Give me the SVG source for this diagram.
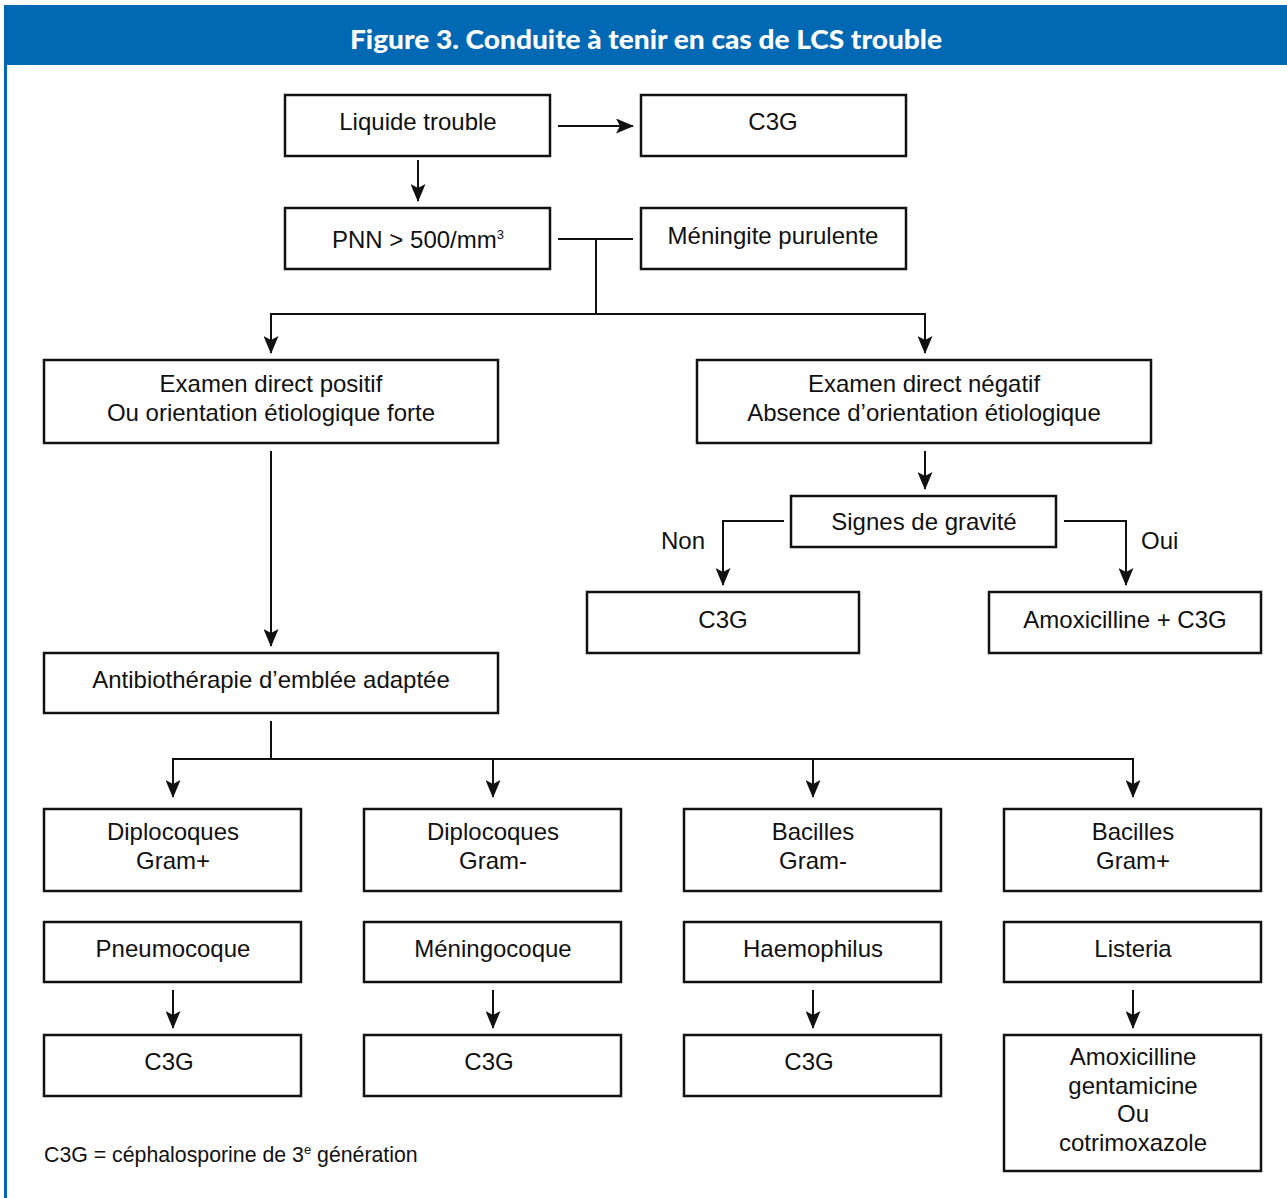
<svg xmlns="http://www.w3.org/2000/svg" width="1287" height="1198" viewBox="0 0 1287 1198">
  <style>
    .box { fill: #ffffff; stroke: #111111; stroke-width: 2.5; }
    .lbl { font-family: "Liberation Sans", Arial, sans-serif; font-size: 24px; fill: #111111; text-anchor: middle; }
    .side { font-family: "Liberation Sans", Arial, sans-serif; font-size: 24px; fill: #111111; }
    .note { font-family: "Liberation Sans", Arial, sans-serif; font-size: 21.3px; fill: #111111; }
    .wire { fill: none; stroke: #111111; stroke-width: 2; }
    .arr { marker-end: url(#head); }
  </style>
  <defs>
    <marker id="head" markerWidth="18" markerHeight="15" refX="17" refY="7.5" orient="auto" markerUnits="userSpaceOnUse">
      <path d="M0,0 L18,7.5 L0,15 L4,7.5 Z" fill="#111111"/>
    </marker>
  </defs>

  <rect x="0" y="0" width="1287" height="1198" fill="#ffffff"/>

  <!-- title band and left rule -->
  <g id="header">
    <rect x="4" y="5" width="1283" height="60" fill="#0168b3"/>
    <rect x="4" y="65" width="3" height="1133" fill="#0168b3"/>
    <text x="646" y="49" font-family="Lato, 'Open Sans', sans-serif" font-weight="900" font-size="27" fill="#ffffff" text-anchor="middle" textLength="592" lengthAdjust="spacingAndGlyphs">Figure 3. Conduite à tenir en cas de LCS trouble</text>
  </g>

  <!-- connectors -->
  <g id="connectors">
    <line class="wire arr" x1="558" y1="126" x2="633" y2="126"/>
    <line class="wire arr" x1="418" y1="160" x2="418" y2="201"/>
    <polyline class="wire" points="558,239 633,239"/>
    <line class="wire" x1="596" y1="239" x2="596" y2="314"/>
    <polyline class="wire arr" points="596,314 271,314 271,353"/>
    <polyline class="wire arr" points="596,314 925,314 925,353"/>
    <line class="wire arr" x1="925" y1="451" x2="925" y2="489"/>
    <polyline class="wire arr" points="784,521 723,521 723,585"/>
    <polyline class="wire arr" points="1064,521 1126,521 1126,585"/>
    <line class="wire arr" x1="271" y1="451" x2="271" y2="646"/>
    <line class="wire" x1="271" y1="721" x2="271" y2="759"/>
    <polyline class="wire arr" points="271,759 173,759 173,797"/>
    <polyline class="wire arr" points="271,759 493,759 493,797"/>
    <polyline class="wire arr" points="271,759 813,759 813,797"/>
    <polyline class="wire arr" points="271,759 1133,759 1133,797"/>
    <line class="wire arr" x1="173" y1="990" x2="173" y2="1028"/>
    <line class="wire arr" x1="493" y1="990" x2="493" y2="1028"/>
    <line class="wire arr" x1="813" y1="990" x2="813" y2="1028"/>
    <line class="wire arr" x1="1133" y1="990" x2="1133" y2="1028"/>
    <text class="side" x="661" y="549">Non</text>
    <text class="side" x="1141" y="549">Oui</text>
  </g>

  <g id="liquide">
    <rect class="box" x="285" y="95" width="265" height="61"/>
    <text class="lbl" x="418" y="130">Liquide trouble</text>
  </g>
  <g id="c3g-initial">
    <rect class="box" x="641" y="95" width="265" height="61"/>
    <text class="lbl" x="773" y="130">C3G</text>
  </g>
  <g id="pnn">
    <rect class="box" x="285" y="208" width="265" height="61"/>
    <text class="lbl" x="418" y="248">PNN &gt; 500/mm<tspan font-size="13" dy="-9">3</tspan></text>
  </g>
  <g id="meningite">
    <rect class="box" x="641" y="208" width="265" height="61"/>
    <text class="lbl" x="773" y="244">Méningite purulente</text>
  </g>
  <g id="ed-positif">
    <rect class="box" x="44" y="360" width="454" height="83"/>
    <text class="lbl" x="271" y="392">Examen direct positif</text>
    <text class="lbl" x="271" y="421">Ou orientation étiologique forte</text>
  </g>
  <g id="ed-negatif">
    <rect class="box" x="697" y="360" width="454" height="83"/>
    <text class="lbl" x="924" y="392">Examen direct négatif</text>
    <text class="lbl" x="924" y="421">Absence d’orientation étiologique</text>
  </g>
  <g id="gravite">
    <rect class="box" x="791" y="496" width="265" height="51"/>
    <text class="lbl" x="924" y="530">Signes de gravité</text>
  </g>
  <g id="c3g-non">
    <rect class="box" x="587" y="592" width="272" height="61"/>
    <text class="lbl" x="723" y="628">C3G</text>
  </g>
  <g id="amox-c3g">
    <rect class="box" x="989" y="592" width="272" height="61"/>
    <text class="lbl" x="1125" y="628">Amoxicilline + C3G</text>
  </g>
  <g id="antibio">
    <rect class="box" x="44" y="653" width="454" height="60"/>
    <text class="lbl" x="271" y="688">Antibiothérapie d’emblée adaptée</text>
  </g>

  <g id="dgp">
    <rect class="box" x="44" y="809" width="257" height="82"/>
    <text class="lbl" x="173" y="840">Diplocoques</text>
    <text class="lbl" x="173" y="869">Gram+</text>
  </g>
  <g id="dgn">
    <rect class="box" x="364" y="809" width="257" height="82"/>
    <text class="lbl" x="493" y="840">Diplocoques</text>
    <text class="lbl" x="493" y="869">Gram-</text>
  </g>
  <g id="bgn">
    <rect class="box" x="684" y="809" width="257" height="82"/>
    <text class="lbl" x="813" y="840">Bacilles</text>
    <text class="lbl" x="813" y="869">Gram-</text>
  </g>
  <g id="bgp">
    <rect class="box" x="1004" y="809" width="257" height="82"/>
    <text class="lbl" x="1133" y="840">Bacilles</text>
    <text class="lbl" x="1133" y="869">Gram+</text>
  </g>

  <g id="pneumo">
    <rect class="box" x="44" y="922" width="257" height="60"/>
    <text class="lbl" x="173" y="957">Pneumocoque</text>
  </g>
  <g id="meningo">
    <rect class="box" x="364" y="922" width="257" height="60"/>
    <text class="lbl" x="493" y="957">Méningocoque</text>
  </g>
  <g id="haemo">
    <rect class="box" x="684" y="922" width="257" height="60"/>
    <text class="lbl" x="813" y="957">Haemophilus</text>
  </g>
  <g id="listeria">
    <rect class="box" x="1004" y="922" width="257" height="60"/>
    <text class="lbl" x="1133" y="957">Listeria</text>
  </g>

  <g id="c3g-pneumo">
    <rect class="box" x="44" y="1035" width="257" height="61"/>
    <text class="lbl" x="169" y="1070">C3G</text>
  </g>
  <g id="c3g-meningo">
    <rect class="box" x="364" y="1035" width="257" height="61"/>
    <text class="lbl" x="489" y="1070">C3G</text>
  </g>
  <g id="c3g-haemo">
    <rect class="box" x="684" y="1035" width="257" height="61"/>
    <text class="lbl" x="809" y="1070">C3G</text>
  </g>
  <g id="listeria-tt">
    <rect class="box" x="1004" y="1035" width="257" height="136"/>
    <text class="lbl" x="1133" y="1065">Amoxicilline</text>
    <text class="lbl" x="1133" y="1094">gentamicine</text>
    <text class="lbl" x="1133" y="1122">Ou</text>
    <text class="lbl" x="1133" y="1151">cotrimoxazole</text>
  </g>

  <g id="footnote">
    <text class="note" x="44" y="1162">C3G = céphalosporine de 3<tspan font-size="13" dy="-8">e</tspan><tspan dy="8"> génération</tspan></text>
  </g>
</svg>
